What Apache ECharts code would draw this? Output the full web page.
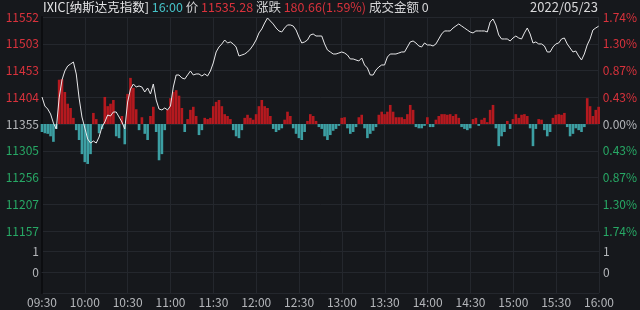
<!DOCTYPE html>
<html><head><meta charset="utf-8">
<script src="https://cdn.jsdelivr.net/npm/echarts@6/dist/echarts.min.js"></script>
<style>html,body{margin:0;padding:0;background:#16181c;}#c{width:640px;height:310px;}</style>
</head><body><div id="c"></div>
<script>
const prevClose = 11354.62;
const stepPct = 0.435;
const leftTicks = ['11157','11207','11256','11305','11355','11404','11453','11503','11552'];
const rightTicks = ['1.74%','1.30%','0.87%','0.43%','0.00%','0.43%','0.87%','1.30%','1.74%'];
const xTicks = ['09:30','10:00','10:30','11:00','11:30','12:00','12:30','13:00','13:30','14:00','14:30','15:00','15:30','16:00'];
const price = [
11404.5,11387.8,11382.3,11373.1,11356.4,11345.4,11402.6,11435.9,11452.5,11461.7,
11465.4,11469.1,11447.0,11402.6,11367.5,11347.2,11326.9,11319.5,11323.2,11319.5,
11330.6,11349.1,11358.3,11371.2,11369.4,11376.8,11376.8,11367.5,11358.3,11345.4,
11395.2,11419.2,11428.5,11422.9,11424.8,11422.9,11413.7,11421.1,11410.0,11428.5,
11398.9,11382.3,11380.5,11384.2,11380.5,11387.8,11422.9,11445.1,11445.1,11439.6,
11437.7,11445.1,11452.5,11445.1,11447.0,11447.0,11443.3,11447.0,11443.3,11452.5,
11467.3,11487.6,11496.8,11502.4,11509.7,11504.2,11506.1,11502.4,11496.8,11480.2,
11482.0,11483.9,11487.6,11493.1,11500.5,11509.7,11522.7,11530.1,11541.1,11550.4,
11544.8,11539.3,11531.9,11526.4,11524.5,11531.9,11537.5,11537.5,11535.6,11528.2,
11515.3,11504.2,11506.1,11509.7,11519.0,11520.8,11517.1,11517.1,11517.1,11502.4,
11491.3,11487.6,11483.9,11483.9,11485.7,11487.6,11485.7,11482.0,11474.7,11474.7,
11472.8,11471.0,11476.5,11463.6,11458.0,11445.1,11445.1,11454.3,11459.9,11463.6,
11463.6,11478.3,11483.9,11483.9,11483.9,11485.7,11487.6,11487.6,11496.8,11506.1,
11507.9,11504.2,11498.7,11496.8,11504.2,11500.5,11500.5,11498.7,11502.4,11511.6,
11520.8,11526.4,11526.4,11526.4,11531.9,11535.6,11539.3,11535.6,11531.9,11528.2,
11524.5,11522.7,11526.4,11526.4,11526.4,11526.4,11524.5,11543.0,11548.5,11537.5,
11519.0,11511.6,11511.6,11511.6,11507.9,11513.4,11517.1,11513.4,11511.6,11522.7,
11531.9,11520.8,11504.2,11506.1,11502.4,11502.4,11498.7,11487.6,11487.6,11496.8,
11502.4,11504.2,11511.6,11513.4,11502.4,11495.0,11487.6,11489.4,11480.2,11472.8,
11483.9,11500.5,11511.6,11528.2,11531.9,11535.28
];
const bars = [
-0.13,-0.15,-0.16,-0.20,-0.29,-0.08,0.72,0.73,0.52,0.33,
0.26,0.10,-0.10,-0.26,-0.49,-0.62,-0.65,-0.49,0.18,0.08,
-0.15,-0.08,0.44,0.29,0.33,0.39,-0.20,-0.23,0.13,-0.33,
0.49,0.75,0.59,0.24,-0.10,0.11,-0.16,-0.26,0.13,0.28,
-0.13,-0.59,-0.49,-0.10,0.23,0.42,0.52,0.55,0.46,0.26,
-0.13,0.08,0.23,0.28,0.13,-0.18,-0.10,0.10,0.08,0.10,
0.29,0.36,0.39,0.29,0.16,0.13,0.08,-0.10,-0.20,-0.23,
-0.10,0.10,0.15,0.10,0.07,0.16,0.29,0.39,0.29,0.26,
0.13,-0.08,-0.13,-0.10,-0.07,0.07,0.20,0.13,-0.07,-0.16,
-0.23,-0.26,-0.13,0.05,0.16,0.13,0.05,-0.05,-0.08,-0.20,
-0.26,-0.18,-0.11,-0.08,-0.03,0.10,0.11,-0.07,-0.16,-0.13,
-0.05,0.11,0.15,-0.07,-0.23,-0.16,-0.11,-0.05,0.15,0.20,
0.16,0.20,0.31,0.20,0.11,0.11,0.11,0.08,0.16,0.31,
0.23,-0.05,-0.07,-0.07,-0.03,0.11,-0.05,-0.05,0.07,0.13,
0.16,0.16,0.15,0.16,0.13,0.16,0.10,-0.05,-0.08,-0.10,
-0.07,0.08,0.10,-0.03,0.07,0.10,0.03,0.23,0.31,-0.07,
-0.36,-0.20,-0.13,0.05,-0.08,0.08,0.16,0.10,0.15,0.16,
0.13,-0.07,-0.36,-0.08,0.08,0.07,-0.10,-0.20,-0.13,0.10,
0.15,0.16,0.15,0.18,-0.05,-0.20,-0.16,-0.07,-0.10,-0.13,
-0.05,0.42,0.29,0.13,0.23,0.28
];
const volume = [];
const header = {code:'IXIC[纳斯达克指数]', time:'16:00', priceLabel:'价', last:'11535.28', chgLabel:'涨跌', chg:'180.66(1.59%)', amtLabel:'成交金额', amt:'0', date:'2022/05/23'};

const times = [];
for (let i = 0; i < price.length; i++) {
  if (i % 15 === 0) times.push(xTicks[i / 15]);
  else times.push('t' + i);
}
const lastIdx = price.length - 1;
times[lastIdx] = xTicks[xTicks.length - 1];

const toStep = p => ((p / prevClose - 1) * 100) / stepPct;
const lineData = price.map(toStep);
const barData = bars.map(b => b / stepPct);

const RED = '#d9323c', GREEN = '#27a865', GREY = '#b4b6ba', WHITE = '#d4d4d6';
const gridCol = '#24272d';
const tickColor = v => v > 0 ? RED : (v < 0 ? GREEN : GREY);
const isTick = i => i % 15 === 0 || i === lastIdx;

const chart = echarts.init(document.getElementById('c'), null, {renderer: 'canvas'});
const F = '"Noto Sans CJK SC","Noto Sans",sans-serif';
const HF = 12.5;
chart.setOption({
  backgroundColor: '#16181c',
  animation: false,
  textStyle: {fontFamily: F},
  grid: [
    {left: 42, right: 41, top: 17, height: 214},
    {left: 42, right: 41, top: 231, height: 62}
  ],
  xAxis: [
    {type: 'category', gridIndex: 0, data: times, boundaryGap: false,
     axisLine: {show: false}, axisTick: {show: false}, axisLabel: {show: false},
     splitLine: {show: true, interval: (i) => isTick(i), lineStyle: {color: gridCol, width: 1}}},
    {type: 'category', gridIndex: 1, data: times, boundaryGap: false,
     axisLine: {show: true, lineStyle: {color: gridCol}}, axisTick: {show: false},
     axisLabel: {show: true, interval: (i) => isTick(i), color: GREY, fontSize: 12, margin: 3, fontFamily: F},
     splitLine: {show: true, interval: (i) => isTick(i), lineStyle: {color: gridCol, width: 1}}}
  ],
  yAxis: [
    {type: 'value', gridIndex: 0, min: -4, max: 4, interval: 1, position: 'left',
     axisLine: {show: true, lineStyle: {color: '#0c0d10', width: 2}}, axisTick: {show: false},
     axisLabel: {fontSize: 12, margin: 3, formatter: v => leftTicks[Math.round(v) + 4],
       color: v => tickColor(v)},
     splitLine: {show: true, lineStyle: {color: gridCol, width: 1}}},
    {type: 'value', gridIndex: 0, min: -4, max: 4, interval: 1, position: 'right',
     axisLine: {show: false}, axisTick: {show: false},
     axisLabel: {fontSize: 12, margin: 4, formatter: v => rightTicks[Math.round(v) + 4],
       color: v => tickColor(v)},
     splitLine: {show: false}},
    {type: 'value', gridIndex: 1, min: -1, max: 2, interval: 1, position: 'left',
     axisLine: {show: true, lineStyle: {color: '#0c0d10', width: 2}}, axisTick: {show: false},
     axisLabel: {fontSize: 12, margin: 3, color: GREY, formatter: v => (v === 0 || v === 1) ? String(v) : ''},
     splitLine: {show: true, lineStyle: {color: gridCol, width: 1}}},
    {type: 'value', gridIndex: 1, min: -1, max: 2, interval: 1, position: 'right',
     axisLine: {show: false}, axisTick: {show: false},
     axisLabel: {fontSize: 12, margin: 4, color: GREY, formatter: v => (v === 0 || v === 1) ? String(v) : ''},
     splitLine: {show: false}}
  ],
  series: [
    {type: 'bar', xAxisIndex: 0, yAxisIndex: 0, data: barData, barCategoryGap: '8%',
     itemStyle: {color: p => p.value >= 0 ? '#b5191f' : '#3c9fa3'}, z: 1},
    {type: 'line', xAxisIndex: 0, yAxisIndex: 0, data: lineData, showSymbol: false, symbol: 'none',
     lineStyle: {color: '#e8e8ea', width: 1}, z: 3},
    {type: 'bar', xAxisIndex: 1, yAxisIndex: 2, data: volume}
  ],
  graphic: [
    {type: 'text', left: 43, top: 1, style: {
      text: '{w|' + header.code + '} {c|' + header.time + '} {g|' + header.priceLabel + '} {r|' + header.last +
            '} {g|' + header.chgLabel + '} {r|' + header.chg + '} {g|' + header.amtLabel + '} {g|' + header.amt + '}',
      font: HF + 'px ' + F,
      rich: {
        w: {fill: '#e4e4e6', fontSize: HF, fontFamily: F},
        c: {fill: '#45c2c8', fontSize: HF, fontFamily: F},
        g: {fill: WHITE, fontSize: HF, fontFamily: F},
        r: {fill: RED, fontSize: HF, fontFamily: F}
      }}},
    {type: 'text', right: 42, top: 1, style: {text: header.date, fill: '#d8d8da', font: '13px ' + F}}
  ]
});
</script></body></html>
